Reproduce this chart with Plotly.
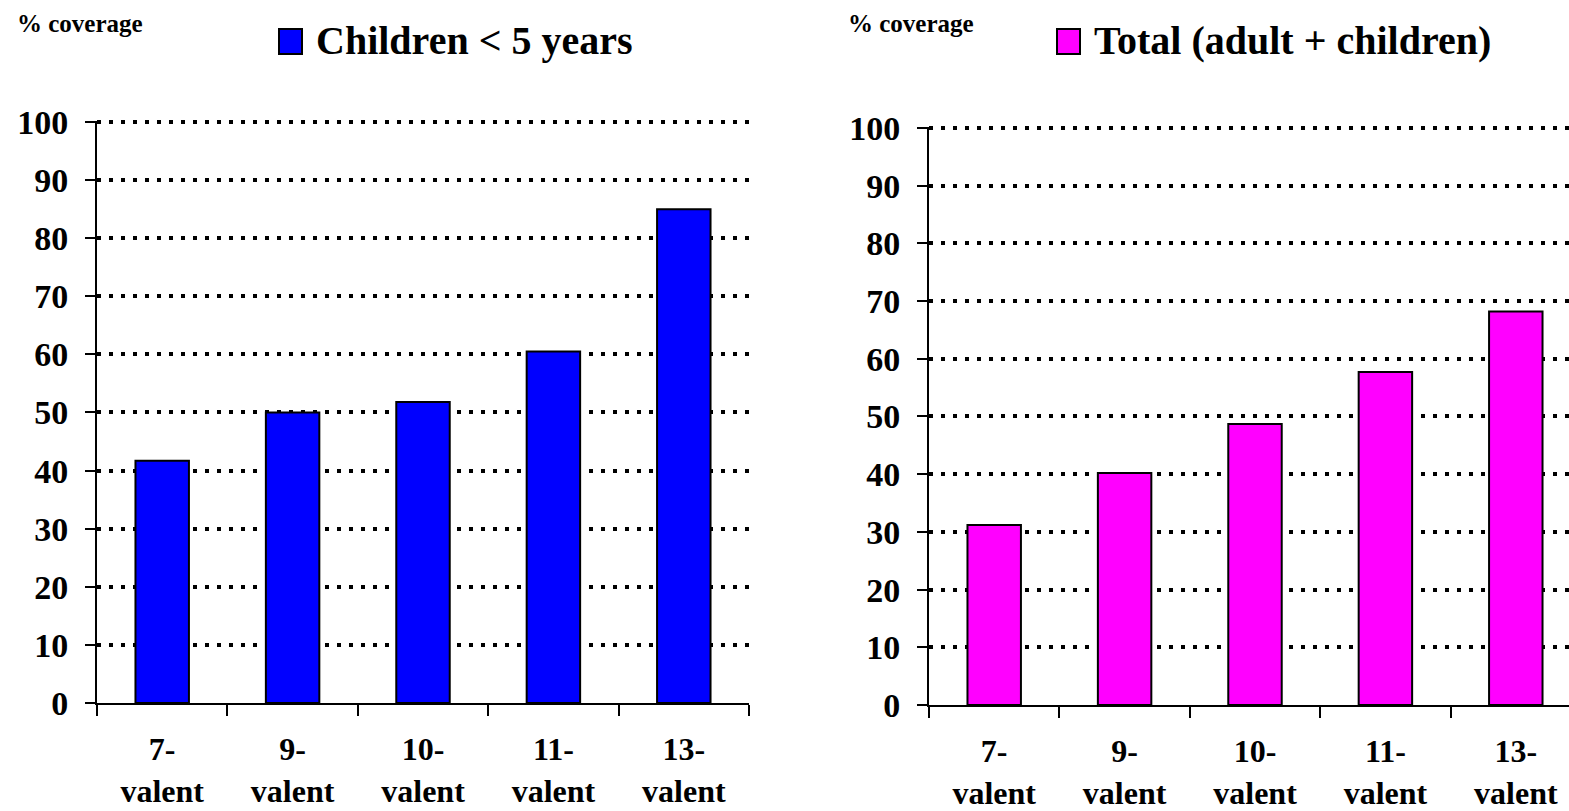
import plotly.graph_objects as go

vaccines = ["7-valent", "9-valent", "10-valent", "11-valent", "13-valent"]
tick_labels = ["7-<br>valent", "9-<br>valent", "10-<br>valent", "11-<br>valent", "13-<br>valent"]
children_coverage = [41.7, 50.0, 51.8, 60.5, 85.0]
total_coverage = [31.2, 40.2, 48.7, 57.7, 68.2]
y_ticks = [0, 10, 20, 30, 40, 50, 60, 70, 80, 90, 100]
series_names = ["Children < 5 years", "Total (adult + children)"]
series_colors = ["#0000FF", "#FF00FF"]

W, H = 1569, 811
FONT = "Liberation Serif, Times New Roman, serif"

fig = go.Figure()
fig.add_trace(go.Bar(x=vaccines, y=children_coverage, name=series_names[0],
                     marker=dict(color=series_colors[0], line=dict(color="black", width=2)),
                     xaxis="x", yaxis="y", showlegend=False))
fig.add_trace(go.Bar(x=vaccines, y=total_coverage, name=series_names[1],
                     marker=dict(color=series_colors[1], line=dict(color="black", width=2)),
                     xaxis="x2", yaxis="y2", showlegend=False))

def px_x(p):
    return p / W

def px_y(p):
    return (H - p) / H

ytickfont = dict(family=FONT, size=34, color="black", weight="bold")
xtickfont = dict(family=FONT, size=32, color="black", weight="bold")

xcommon = dict(type="category", categoryorder="array", categoryarray=vaccines,
               tickmode="array", tickvals=vaccines, ticktext=tick_labels,
               tickson="boundaries", ticks="outside", ticklen=11, tickwidth=2,
               tickcolor="black", showline=True, linecolor="black", linewidth=2,
               showgrid=False, zeroline=False, tickfont=xtickfont, fixedrange=True,
               automargin=False, ticklabelstandoff=17)

YTOP = 100.25
ycommon = dict(range=[0, YTOP], tickmode="array", tickvals=y_ticks,
               ticks="outside", ticklen=10, tickwidth=2, tickcolor="black",
               showline=True, linecolor="black", linewidth=2, zeroline=False,
               showgrid=True, gridcolor="black", gridwidth=4, griddash="4px,8px",
               tickfont=ytickfont, fixedrange=True, automargin=False,
               ticklabelstandoff=10)

def ydomain(p0, p100):
    scale = (p0 - p100) / 100.0
    top = p0 - YTOP * scale
    return [px_y(p0), px_y(top)]

cat_px = (749 - 97) / 5.0
right_end = 4.5 - (929 + 5 * cat_px - W) / cat_px

fig.update_layout(
    width=W, height=H,
    margin=dict(l=0, r=0, t=0, b=0, autoexpand=False),
    paper_bgcolor="white", plot_bgcolor="white",
    bargap=0.59,
    xaxis=dict(domain=[px_x(97), px_x(749)], anchor="y", range=[-0.5, 4.5], **xcommon),
    yaxis=dict(domain=ydomain(703, 122), anchor="x", **ycommon),
    xaxis2=dict(domain=[px_x(929), 1.0], anchor="y2", range=[-0.5, right_end], **xcommon),
    yaxis2=dict(domain=ydomain(705, 128), anchor="x2", **ycommon),
)

# legend-like keys and axis captions
keys = [
    dict(sq=(279, 302), text_x=314, cap_x=15, name=series_names[0], color=series_colors[0]),
    dict(sq=(1057, 1080), text_x=1092, cap_x=846, name=series_names[1], color=series_colors[1]),
]
for k in keys:
    fig.add_shape(type="rect", xref="paper", yref="paper",
                  x0=px_x(k["sq"][0]), x1=px_x(k["sq"][1]),
                  y0=px_y(54), y1=px_y(29),
                  fillcolor=k["color"], line=dict(color="black", width=2))
    fig.add_annotation(xref="paper", yref="paper", x=px_x(k["text_x"]), y=px_y(41),
                       xanchor="left", yanchor="middle", showarrow=False,
                       text=k["name"], font=dict(family=FONT, size=40, color="black", weight="bold"))
    fig.add_annotation(xref="paper", yref="paper", x=px_x(k["cap_x"]), y=px_y(24),
                       xanchor="left", yanchor="middle", showarrow=False,
                       text="% coverage", font=dict(family=FONT, size=25, color="black", weight="bold"))

fig.write_html("out.html",
               config={"displayModeBar": False},
               post_script="document.body.style.margin='0';document.body.style.overflow='hidden';")
